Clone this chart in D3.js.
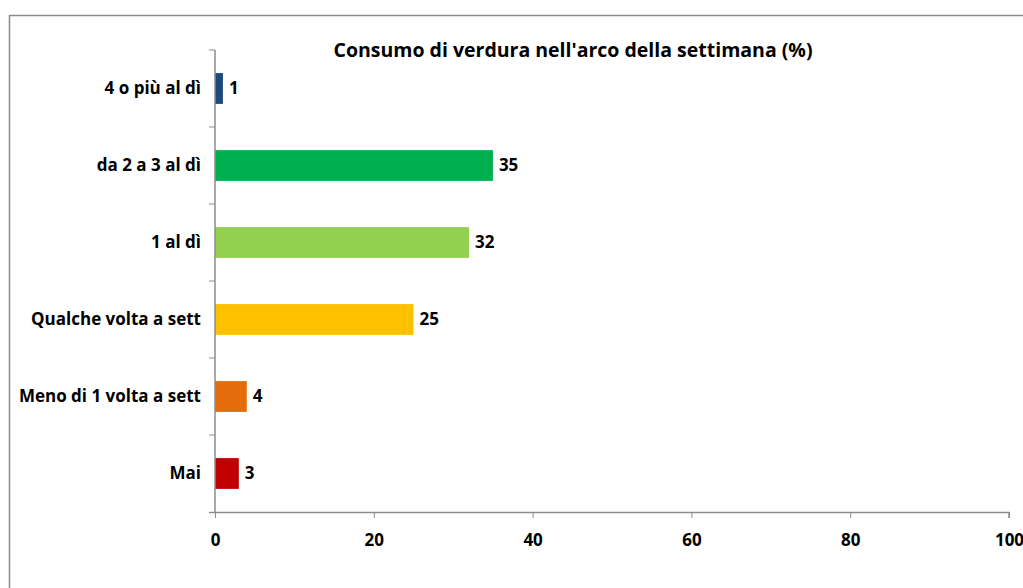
<!DOCTYPE html>
<html>
<head>
<meta charset="utf-8">
<script src="https://cdn.jsdelivr.net/npm/d3@7"></script>
<style>
  body { margin: 0; background: #fff; }
  text { font-family: "Open Sans", "Noto Sans", sans-serif; font-weight: bold; fill: #000; }
</style>
</head>
<body>
<div id="chart"></div>
<script>
const categories = ['4 o più al dì', 'da 2 a 3 al dì', '1 al dì', 'Qualche volta a sett', 'Meno di 1 volta a sett', 'Mai'];
const values = [1, 35, 32, 25, 4, 3];
const barColors = ['#1F497D', '#00B050', '#92D050', '#FFC000', '#E46C0A', '#C00000'];
const xTicks = [0, 20, 40, 60, 80, 100];
const title = "Consumo di verdura nell'arco della settimana (%)";

const WIDTH = 1023;
const HEIGHT = 588;

const svg = d3.select('#chart')
              .append('svg')
              .attr('width', WIDTH)
              .attr('height', HEIGHT);

// chart border (runs off the right and bottom edges)
svg.append('rect')
   .attr('x', 9.5)
   .attr('y', 15.5)
   .attr('width', WIDTH + 20)
   .attr('height', HEIGHT + 20)
   .attr('fill', 'none')
   .attr('stroke', '#8c8c8c')
   .attr('stroke-width', 1.5);

const xScale = d3.scaleLinear()
                 .domain([0, 100])
                 .range([215, 1009]);

const yScale = d3.scaleBand()
                 .domain(categories)
                 .range([50, 512])
                 .paddingInner(0.6)
                 .paddingOuter(0.3);

svg.append('text')
   .attr('x', 573)
   .attr('y', 50)
   .attr('dy', '0.35em')
   .attr('text-anchor', 'middle')
   .style('font-size', '19.5px')
   .text(title);

// bars
svg.selectAll('rect.bar')
   .data(values)
   .enter()
   .append('rect')
   .attr('class', 'bar')
   .attr('x', xScale(0))
   .attr('y', (d, i) => yScale(categories[i]))
   .attr('width', d => xScale(d) - xScale(0))
   .attr('height', yScale.bandwidth())
   .attr('fill', (d, i) => barColors[i]);

// value labels
svg.selectAll('text.value')
   .data(values)
   .enter()
   .append('text')
   .attr('class', 'value')
   .attr('x', d => xScale(d) + 6)
   .attr('y', (d, i) => yScale(categories[i]) + yScale.bandwidth() / 2)
   .attr('dy', '0.35em')
   .style('font-size', '17px')
   .text(d => d);

// x axis
const xAxis = d3.axisBottom(xScale)
                .tickValues(xTicks)
                .tickSize(6)
                .tickPadding(16)
                .tickFormat(d3.format('d'));

const xAx = svg.append('g')
   .attr('transform', 'translate(0, 512)')
   .call(xAxis);

xAx.select('.domain').attr('stroke', '#8c8c8c').attr('stroke-width', 1.5)
   .attr('d', `M${xScale(0) - 6},0.5H${xScale(100)}V6`);
xAx.selectAll('line').attr('stroke', '#8c8c8c');
xAx.selectAll('text').style('font-size', '17px').style('font-family', '"Open Sans", sans-serif').style('font-weight', 'bold');

// y axis: line with ticks at band boundaries
const yAx = svg.append('g');
yAx.append('line')
   .attr('x1', xScale(0)).attr('x2', xScale(0))
   .attr('y1', 50).attr('y2', 512)
   .attr('stroke', '#8c8c8c')
   .attr('stroke-width', 1.5);

const step = yScale.step();
const boundaries = d3.range(categories.length).map(i => 50 + i * step);
yAx.selectAll('line.tick')
   .data(boundaries)
   .enter()
   .append('line')
   .attr('class', 'tick')
   .attr('x1', xScale(0) - 6).attr('x2', xScale(0))
   .attr('y1', d => d).attr('y2', d => d)
   .attr('stroke', '#8c8c8c');

svg.selectAll('text.cat')
   .data(categories)
   .enter()
   .append('text')
   .attr('class', 'cat')
   .attr('x', 201)
   .attr('y', d => yScale(d) + yScale.bandwidth() / 2)
   .attr('dy', '0.35em')
   .attr('text-anchor', 'end')
   .style('font-size', '17px')
   .text(d => d);
</script>
</body>
</html>
